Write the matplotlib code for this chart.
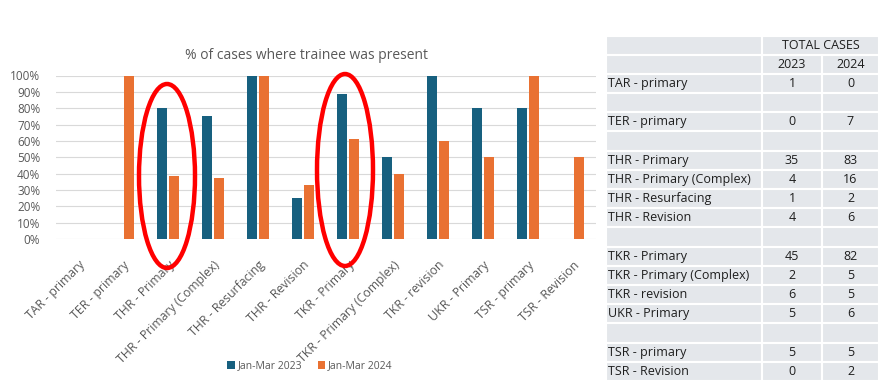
import numpy as np
import matplotlib.pyplot as plt
import matplotlib.transforms as mtransforms
from matplotlib.patches import Ellipse, Rectangle

plt.rcParams['font.family'] = ['Open Sans', 'DejaVu Sans']

# chart data
categories = ['TAR - primary', 'TER - primary', 'THR - Primary', 'THR - Primary (Complex)',
              'THR - Resurfacing', 'THR - Revision', 'TKR - Primary', 'TKR - Primary (Complex)',
              'TKR - revision', 'UKR - Primary', 'TSR - primary', 'TSR - Revision']
pct_2023 = [0, 0, 0.80, 0.75, 1.00, 0.25, 0.889, 0.50, 1.00, 0.80, 0.80, 0]
pct_2024 = [0, 1.00, 0.386, 0.375, 1.00, 0.333, 0.61, 0.40, 0.60, 0.50, 1.00, 0.50]
series_names = ['Jan-Mar 2023', 'Jan-Mar 2024']
yticks = np.arange(0, 1.01, 0.1)

# table data
tbl_labels = ['TAR - primary', '', 'TER - primary', '', 'THR - Primary', 'THR - Primary (Complex)',
              'THR - Resurfacing', 'THR - Revision', '', 'TKR - Primary', 'TKR - Primary (Complex)',
              'TKR - revision', 'UKR - Primary', '', 'TSR - primary', 'TSR - Revision']
tbl_2023 = ['1', '', '0', '', '35', '4', '1', '4', '', '45', '2', '6', '5', '', '5', '0']
tbl_2024 = ['0', '', '7', '', '83', '16', '2', '6', '', '82', '5', '5', '6', '', '5', '2']

blue = '#17607f'
orange = '#e97132'
grey = '#595959'

W, H = 888, 387
fig = plt.figure(figsize=(W/100, H/100), dpi=100)

ax = fig.add_axes([55.5/W, (H-239)/H, 540/W, 163.5/H])
x = np.arange(len(categories))
bw = 0.22
ax.bar(x - 0.135, pct_2023, bw, color=blue, label=series_names[0], zorder=2)
ax.bar(x + 0.135, pct_2024, bw, color=orange, label=series_names[1], zorder=2)
ax.set_xlim(-0.5, len(categories) - 0.5)
ax.set_ylim(0, 1)
ax.set_yticks(yticks)
ax.set_yticklabels([f'{int(round(t*100))}%' for t in yticks], fontsize=8.5, color=grey)
ax.yaxis.grid(True, color='#d9d9d9', lw=0.8, zorder=0)
ax.set_xticks(x)
ax.set_xticklabels(categories, rotation=45, ha='right', va='top', rotation_mode='anchor',
                   fontsize=8.8, color=grey)
shift = mtransforms.ScaledTranslation(3/100, 0, fig.dpi_scale_trans)
for lab in ax.get_xticklabels():
    lab.set_transform(lab.get_transform() + shift)
ax.tick_params(axis='both', length=0)
ax.tick_params(axis='y', pad=11)
ax.tick_params(axis='x', pad=14)
for s in ax.spines.values():
    s.set_visible(False)
ax.set_title('% of cases where trainee was present', fontsize=10, color=grey,
             x=(306 - 55.5)/540, pad=12)

fig.legend(loc='center', bbox_to_anchor=(310/W, (H-366)/H), ncol=2, frameon=False,
           fontsize=7.5, handlelength=0.7, handleheight=0.7, handletextpad=0.3,
           columnspacing=1.5, labelcolor=grey)

# overlay in pixel coordinates for table and highlight ellipses
ov = fig.add_axes([0, 0, 1, 1], zorder=5)
ov.set_xlim(0, W)
ov.set_ylim(H, 0)
ov.axis('off')
ov.patch.set_alpha(0)

ov.add_patch(Ellipse((167, 176), 56, 184, fill=False, ec='#ff0000', lw=3.2))
ov.add_patch(Ellipse((345, 170), 56, 192, fill=False, ec='#ff0000', lw=3.2))

# table
x0, x1, x2, x3 = 606, 762, 822, 879
top = 35.5
rh = (381 - top) / (len(tbl_labels) + 2)
cell = '#e4e7eb'
fs = 9
tc = '#1e1e1e'

def cellbox(xa, xb, r):
    ov.add_patch(Rectangle((xa, top + r*rh), xb - xa, rh, fc=cell, ec='white', lw=1.5))

cellbox(x0, x1, 0)
cellbox(x1, x3, 0)
ov.text((x1 + x3)/2, top + 0.5*rh, 'TOTAL CASES', ha='center', va='center', fontsize=fs, color=tc)
cellbox(x0, x1, 1)
cellbox(x1, x2, 1)
cellbox(x2, x3, 1)
ov.text((x1 + x2)/2, top + 1.5*rh, '2023', ha='center', va='center', fontsize=fs, color=tc)
ov.text((x2 + x3)/2, top + 1.5*rh, '2024', ha='center', va='center', fontsize=fs, color=tc)
for i, (lab, a, b) in enumerate(zip(tbl_labels, tbl_2023, tbl_2024)):
    r = i + 2
    cellbox(x0, x1, r)
    cellbox(x1, x2, r)
    cellbox(x2, x3, r)
    yc = top + (r + 0.5)*rh
    ov.text(x0 + 2, yc, lab, ha='left', va='center', fontsize=fs, color=tc)
    ov.text((x1 + x2)/2, yc, a, ha='center', va='center', fontsize=fs, color=tc)
    ov.text((x2 + x3)/2, yc, b, ha='center', va='center', fontsize=fs, color=tc)

fig.savefig('out.png', dpi=100)
